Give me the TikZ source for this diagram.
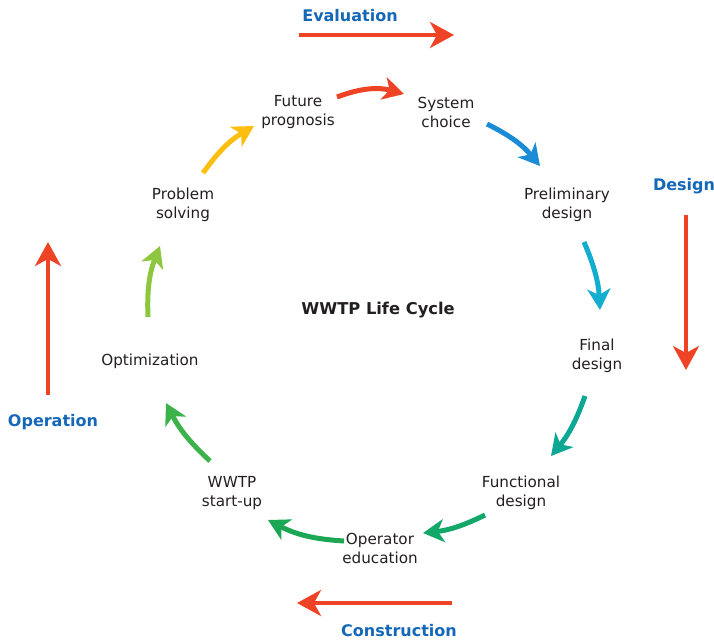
\documentclass[tikz,border=0pt]{standalone}
\usepackage{fontspec}
\setmainfont{DejaVu Sans}
\usetikzlibrary{arrows.meta}
\definecolor{cred}{HTML}{EE4325}
\definecolor{cblue}{HTML}{1567B7}
\definecolor{ctxt}{HTML}{231F20}
\definecolor{aBlue}{HTML}{1A8CD6}
\definecolor{aCyan}{HTML}{13AECF}
\definecolor{aTeal}{HTML}{0DA894}
\definecolor{aGreenA}{HTML}{13A86A}
\definecolor{aGreenB}{HTML}{1DA653}
\definecolor{aGreenC}{HTML}{3BB34A}
\definecolor{aLime}{HTML}{8DC63F}
\definecolor{aYellow}{HTML}{FDBE12}
\tikzset{
  x=1pt, y=-1pt,
  stage/.style={font=\fontsize{15.2}{19}\selectfont, text=ctxt, align=center, inner sep=0pt},
  phase/.style={font=\fontsize{16}{18}\selectfont\bfseries, text=cblue, inner sep=0pt},
  title/.style={font=\fontsize{16.3}{18}\selectfont\bfseries, text=ctxt, inner sep=0pt},
  cyc/.style={line width=5pt, -{Stealth[length=21pt,width=23pt,inset=6pt]}},
  phasearrow/.style={line width=4pt, draw=cred, -{Stealth[length=24pt,width=26pt,inset=7pt]}}
}
\begin{document}
\begin{tikzpicture}
\useasboundingbox (0,0) rectangle (714,643);
% stages
\node[stage] (fp) at (298,112) {Future\\prognosis};
\node[stage] (sc) at (446,112) {System\\choice};
\node[stage] (pd) at (567,205) {Preliminary\\design};
\node[stage] (fd) at (597,356) {Final\\design};
\node[stage] (fn) at (521,493) {Functional\\design};
\node[stage] (oe) at (380,548) {Operator\\education};
\node[stage] (su) at (232,493) {WWTP\\start-up};
\node[stage] (op) at (150,361) {Optimization};
\node[stage] (ps) at (183,205) {Problem\\solving};
\node[title] (t) at (378,310) {WWTP Life Cycle};
% phase labels
\node[phase] (ev) at (350,16) {Evaluation};
\node[phase] (de) at (684,186) {Design};
\node[phase] (co) at (399,631) {Construction};
\node[phase] (ope) at (53,422) {Operation};
% phase arrow ends
\coordinate (e1) at (299,35); \coordinate (e2) at (454,35);
\coordinate (d1) at (686,215); \coordinate (d2) at (686,370);
\coordinate (c1) at (452,603); \coordinate (c2) at (297,603);
\coordinate (o1) at (48,395); \coordinate (o2) at (48,242);
\draw[phasearrow] (e1) -- (e2);
\draw[phasearrow] (d1) -- (d2);
\draw[phasearrow] (c1) -- (c2);
\draw[phasearrow] (o1) -- (o2);
% cycle arrow ends
\coordinate (a1) at (337,97);  \coordinate (a2) at (404,94);
\coordinate (b1) at (487,124); \coordinate (b2) at (540,166);
\coordinate (c3) at (584,242); \coordinate (c4) at (600,310);
\coordinate (d3) at (585,396); \coordinate (d4) at (551,456);
\coordinate (f1) at (485,515); \coordinate (f2) at (423,533);
\coordinate (g1) at (344,541); \coordinate (g2) at (268,520);
\coordinate (h1) at (210,461); \coordinate (h2) at (166,403);
\coordinate (i1) at (148,317); \coordinate (i2) at (160,246);
\coordinate (j1) at (203,173); \coordinate (j2) at (254,126);
\draw[cyc, draw=cred] (a1) to[bend left=18] (a2);
\draw[cyc, draw=aBlue] (b1) to[bend left=12] (b2);
\draw[cyc, draw=aCyan] (c3) to[bend left=10] (c4);
\draw[cyc, draw=aTeal] (d3) to[bend left=10] (d4);
\draw[cyc, draw=aGreenA] (f1) to[bend left=10] (f2);
\draw[cyc, draw=aGreenB] (g1) to[bend left=12] (g2);
\draw[cyc, draw=aGreenC] (h1) to[bend left=10] (h2);
\draw[cyc, draw=aLime] (i1) to[bend left=12] (i2);
\draw[cyc, draw=aYellow] (j1) to[bend left=12] (j2);
\end{tikzpicture}
\end{document}
